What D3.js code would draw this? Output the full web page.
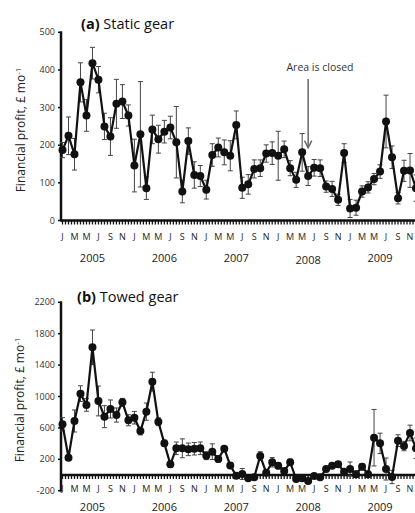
<!DOCTYPE html>
<html>
<head>
<meta charset="utf-8">
<script src="https://cdn.jsdelivr.net/npm/d3@7"></script>
<style>
  body { margin: 0; background: #fff; }
  svg { display: block; font-family: "Open Sans", sans-serif; }
</style>
</head>
<body>
<svg id="chart" width="415" height="513"></svg>
<script>
// months Jan 2005 .. Dec 2009
const monthLetters = ["J", "F", "M", "A", "M", "J", "J", "A", "S", "O", "N", "D"];
const years = ["2005", "2006", "2007", "2008", "2009"];

// (a) static gear, mean and error
const staticMean = [
  187, 225, 176, 367, 279, 418, 374, 250, 223, 310, 316, 279,
  146, 229, 86, 242, 216, 236, 247, 208, 77, 211, 121, 118,
  82, 174, 194, 181, 172, 254, 87, 96, 137, 139, 178, 179,
  172, 189, 139, 108, 181, 118, 140, 139, 90, 84, 55, 179,
  32, 34, 77, 88, 110, 130, 263, 168, 59, 132, 133, 86
];
const staticErr = [
  20, 50, 42, 52, 42, 42, 35, 35, 50, 65, 45, 28,
  70, 140, 30, 38, 37, 30, 30, 95, 30, 35, 35, 28,
  25, 30, 25, 33, 40, 37, 28, 26, 24, 22, 23, 30,
  65, 22, 20, 20, 50, 25, 22, 22, 15, 20, 15, 25,
  24, 20, 15, 15, 15, 18, 70, 30, 15, 28, 45, 35
];
const staticTicks = [0, 100, 200, 300, 400, 500];

// (b) towed gear, mean and error
const towedMean = [
  646, 221, 688, 1036, 892, 1627, 943, 743, 841, 764, 926, 697,
  730, 560, 807, 1189, 679, 403, 136, 340, 340, 327, 335, 340,
  246, 297, 204, 335, 122, -10, 13, -42, -30, 242, 30, 162,
  119, 51, 162, -51, -42, -76, -13, -30, 76, 119, 136, 42,
  76, 9, 106, 9, 475, 403, 76, -25, 437, 369, 535, 340
];
const towedErr = [
  85, 30, 140, 100, 80, 220, 190, 140, 115, 90, 50, 70,
  80, 50, 110, 120, 50, 40, 40, 80, 120, 80, 80, 80,
  50, 100, 40, 30, 30, 30, 70, 20, 20, 55, 20, 60,
  40, 20, 40, 25, 25, 30, 25, 25, 30, 30, 30, 30,
  90, 40, 40, 40, 360, 130, 140, 85, 75, 60, 100, 130
];
const towedTicks = [-200, 200, 600, 1000, 1400, 1800, 2200];

const svg = d3.select("#chart");
const x = d3.scaleLinear().domain([0, 59]).range([62.5, 416]);
const AXIS_X = 61;
const RIGHT = 415;

function drawPanel(cfg) {
  const y = d3.scaleLinear().domain(cfg.domain).range(cfg.range);
  const g = svg.append("g");

  // y axis line + ticks
  g.append("line")
    .attr("x1", AXIS_X).attr("x2", AXIS_X)
    .attr("y1", cfg.range[1] - 1).attr("y2", cfg.range[0] + 1)
    .attr("stroke", "#111").attr("stroke-width", 2.5);
  cfg.ticks.forEach(t => {
    g.append("line")
      .attr("x1", AXIS_X - 3).attr("x2", AXIS_X)
      .attr("y1", y(t)).attr("y2", y(t))
      .attr("stroke", "#111").attr("stroke-width", 1.5);
    g.append("text")
      .attr("x", AXIS_X - 6).attr("y", y(t))
      .attr("dy", "0.35em")
      .attr("text-anchor", "end")
      .style("font-size", "9px")
      .style("fill", "#333")
      .text(t);
  });

  // baseline (zero line) with monthly ticks
  const y0 = y(0);
  g.append("line")
    .attr("x1", AXIS_X).attr("x2", RIGHT)
    .attr("y1", y0).attr("y2", y0)
    .attr("stroke", "#111").attr("stroke-width", 2.5);
  d3.range(0, 60, 0.5).forEach(i => {
    g.append("line")
      .attr("x1", x(i)).attr("x2", x(i))
      .attr("y1", y0).attr("y2", y0 + 4)
      .attr("stroke", "#111").attr("stroke-width", 1.3);
  });

  // month letters every other month
  d3.range(0, 60, 2).forEach(i => {
    g.append("text")
      .attr("x", x(i)).attr("y", cfg.monthY)
      .attr("text-anchor", "middle")
      .style("font-size", "9px")
      .style("fill", "#222")
      .text(monthLetters[i % 12]);
  });
  years.forEach((yr, k) => {
    g.append("text")
      .attr("x", x(k * 12 + 5)).attr("y", cfg.yearY + (k === 3 ? cfg.yearShift : 0))
      .attr("text-anchor", "middle")
      .style("font-size", "11px")
      .style("fill", "#222")
      .text(yr);
  });

  // error bars
  const eb = g.selectAll(".eb").data(cfg.mean).enter().append("g");
  eb.append("line")
    .attr("x1", (d, i) => x(i)).attr("x2", (d, i) => x(i))
    .attr("y1", (d, i) => y(d - cfg.err[i])).attr("y2", (d, i) => y(d + cfg.err[i]))
    .attr("stroke", "#444").attr("stroke-width", 1);
  [1, -1].forEach(s => {
    eb.append("line")
      .attr("x1", (d, i) => x(i) - 2.5).attr("x2", (d, i) => x(i) + 2.5)
      .attr("y1", (d, i) => y(d + s * cfg.err[i])).attr("y2", (d, i) => y(d + s * cfg.err[i]))
      .attr("stroke", "#444").attr("stroke-width", 1);
  });

  // line + points
  const line = d3.line().x((d, i) => x(i)).y(d => y(d));
  g.append("path")
    .datum(cfg.mean)
    .attr("d", line)
    .attr("fill", "none")
    .attr("stroke", "#111")
    .attr("stroke-width", 2.2);
  g.selectAll(".pt").data(cfg.mean).enter().append("circle")
    .attr("cx", (d, i) => x(i)).attr("cy", d => y(d))
    .attr("r", 4)
    .attr("fill", "#111");

  // title
  const title = g.append("text")
    .attr("x", cfg.titleX).attr("y", cfg.titleY)
    .style("font-size", "14.5px")
    .style("fill", "#111");
  title.append("tspan").style("font-weight", "bold").text(cfg.label + " ");
  title.append("tspan").text(cfg.title);

  // y axis title
  const yt = g.append("text")
    .attr("transform", `translate(${cfg.yTitleX},${cfg.yTitleY}) rotate(-90)`)
    .attr("text-anchor", "middle")
    .style("font-size", "12px")
    .style("fill", "#222");
  yt.append("tspan").text("Financial profit, £ mo");
  yt.append("tspan").attr("dy", "-0.45em").style("font-size", "8px").text("-1");

  return y;
}

const yA = drawPanel({
  domain: [0, 500], range: [220.5, 32.3], ticks: staticTicks,
  mean: staticMean, err: staticErr,
  monthY: 240, yearY: 262, yearShift: 2,
  label: "(a)", title: "Static gear", titleX: 81, titleY: 29,
  yTitleX: 25, yTitleY: 130
});

drawPanel({
  domain: [-200, 2200], range: [490.7, 302.3], ticks: towedTicks,
  mean: towedMean, err: towedErr,
  monthY: 492, yearY: 510.5, yearShift: 0,
  label: "(b)", title: "Towed gear", titleX: 77, titleY: 302,
  yTitleX: 24, yTitleY: 400
});

// "Area is closed" annotation at June 2008
svg.append("defs").append("marker")
  .attr("id", "arr").attr("viewBox", "0 0 10 10")
  .attr("refX", 9).attr("refY", 5)
  .attr("markerWidth", 6).attr("markerHeight", 6)
  .attr("orient", "auto")
  .append("path").attr("d", "M1,1 L9,5 L1,9").attr("fill", "none")
  .attr("stroke", "#666").attr("stroke-width", 1.6);
svg.append("text")
  .attr("x", 320).attr("y", 71)
  .attr("text-anchor", "middle")
  .style("font-size", "10.5px")
  .style("fill", "#333")
  .text("Area is closed");
svg.append("line")
  .attr("x1", x(41)).attr("x2", x(41))
  .attr("y1", 79).attr("y2", yA(193))
  .attr("stroke", "#666").attr("stroke-width", 1.5)
  .attr("marker-end", "url(#arr)");
</script>
</body>
</html>
